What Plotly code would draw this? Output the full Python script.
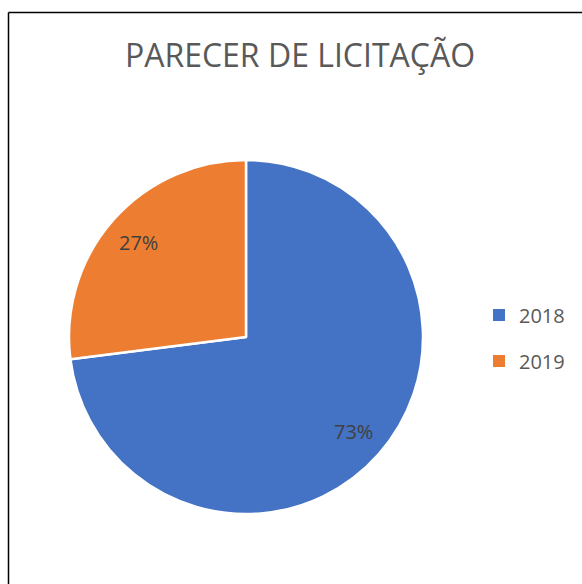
import math
import plotly.graph_objects as go

categories = ["2018", "2019"]
values = [73, 27]
colors = ["#4472C4", "#ED7D31"]
title_text = "PARECER DE LICITAÇÃO"

W, H = 582, 584
cx, cy, r = 246, 337, 177
label_frac = 0.81

fig = go.Figure()
fig.add_trace(go.Pie(
    labels=categories, values=values, sort=False, direction="clockwise",
    rotation=0,
    marker=dict(colors=colors, line=dict(color="white", width=2.5)),
    textinfo="none",
    domain=dict(x=[(cx - r) / W, (cx + r) / W], y=[(H - cy - r) / H, (H - cy + r) / H]),
    showlegend=False, hoverinfo="label+percent",
))
for c, col in zip(categories, colors):
    fig.add_trace(go.Scatter(
        x=[None], y=[None], mode="markers", name=c,
        marker=dict(symbol="square", size=9, color=col),
        legendgroup=c, showlegend=True,
    ))

# percentage labels placed at mid-angle of each slice
total = sum(values)
annotations = []
cum = 0
for v in values:
    mid = (cum + v / 2) / total * 2 * math.pi
    cum += v
    px = cx + label_frac * r * math.sin(mid)
    py = cy - label_frac * r * math.cos(mid)
    annotations.append(dict(
        x=px / W, y=1 - py / H, xref="paper", yref="paper",
        text=f"{round(v / total * 100)}%", showarrow=False,
        xanchor="center", yanchor="middle",
        font=dict(family="Open Sans", size=20, color="#404040"),
    ))

fig.update_layout(
    width=W, height=H,
    margin=dict(l=0, r=0, t=0, b=0),
    paper_bgcolor="white", plot_bgcolor="white",
    xaxis=dict(visible=False), yaxis=dict(visible=False),
    title=dict(text=title_text, x=300 / W, xanchor="center", y=1 - 56 / H, yanchor="middle",
               font=dict(family="Open Sans", size=32, color="#595959")),
    legend=dict(x=479 / W, xanchor="left", y=1 - 338 / H, yanchor="middle",
                font=dict(family="Open Sans", size=20, color="#595959"),
                tracegroupgap=17, itemsizing="constant", bgcolor="rgba(0,0,0,0)"),
    annotations=annotations,
    shapes=[
        dict(type="line", xref="paper", yref="paper", x0=8.5 / W, x1=8.5 / W, y0=0, y1=1 - 12.5 / H,
             line=dict(color="black", width=1.5)),
        dict(type="line", xref="paper", yref="paper", x0=8.5 / W, x1=1, y0=1 - 12.5 / H, y1=1 - 12.5 / H,
             line=dict(color="black", width=1.5)),
    ],
)
fig.write_html("out.html", config={"displayModeBar": False},
               post_script="document.body.style.margin='0';")
